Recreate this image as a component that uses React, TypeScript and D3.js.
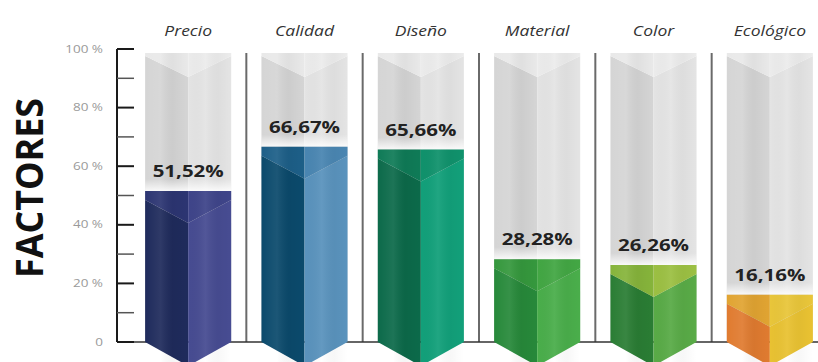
import React from "react";
import * as d3 from "d3";

const categories = ["Precio", "Calidad", "Diseño", "Material", "Color", "Ecológico"];
const values = [51.52, 66.67, 65.66, 28.28, 26.26, 16.16];
const valueLabels = ["51,52%", "66,67%", "65,66%", "28,28%", "26,26%", "16,16%"];
const majorTicks = [0, 20, 40, 60, 80, 100];
const majorTickLabels = ["0", "20 %", "40 %", "60 %", "80 %", "100 %"];
const minorTicks = [10, 30, 50, 70, 90];
const axisTitle = "FACTORES";

// face colours for each prism: left face, right face, top-left, top-right
const faceColors = [
  ["#1f2b5c", "#474c92", "#2c3572", "#3f458a"],
  ["#0b4a6c", "#5a93bd", "#1d5f88", "#4a86b2"],
  ["#0c6a4a", "#12a07a", "#0f7b57", "#10926c"],
  ["#27893a", "#4aae4b", "#35983d", "#43a744"],
  ["#2a7d34", "#59ab47", "#86b43b", "#9cc043"],
  ["#e07b30", "#e9c232", "#e1a432", "#e9c63a"],
];

const W = 818;
const H = 362;

type Pt = [number, number];

function prism(x0: number, x1: number, yTop: number, yBot: number, d1: number, d2: number, dB: number) {
  const xm = (x0 + x1) / 2;
  return {
    topL: [[x0, yTop], [xm, yTop], [xm, yTop + d2], [x0, yTop + d1]] as Pt[],
    topR: [[xm, yTop], [x1, yTop], [x1, yTop + d1], [xm, yTop + d2]] as Pt[],
    left: [[x0, yTop + d1], [xm, yTop + d2], [xm, yBot + dB], [x0, yBot]] as Pt[],
    right: [[xm, yTop + d2], [x1, yTop + d1], [x1, yBot], [xm, yBot + dB]] as Pt[],
  };
}

const poly = (pts: Pt[]) => (d3.line()(pts) || "") + "Z";

export default function App() {
  const x = d3.scaleBand<string>().domain(categories).range([130, 828]).paddingInner(0.26).paddingOuter(0.13);
  const y = d3.scaleLinear().domain([0, 100]).range([342, 49]);
  const bw = x.bandwidth();
  const gap = x.step() - bw;
  const axisX = 117;
  const base = y(0);

  return (
    <svg width={W} height={H} style={{ position: "absolute", left: 0, top: 0, background: "#ffffff" }}>
      <defs>
        <linearGradient id="glow" x1="0" y1="0" x2="0" y2="1">
          <stop offset="0" stopColor="#ffffff" stopOpacity="0" />
          <stop offset="1" stopColor="#ffffff" stopOpacity="0.85" />
        </linearGradient>
        <linearGradient id="sheen" x1="0" y1="0" x2="1" y2="0">
          <stop offset="0" stopColor="#ffffff" stopOpacity="0" />
          <stop offset="0.18" stopColor="#ffffff" stopOpacity="0.07" />
          <stop offset="0.32" stopColor="#000000" stopOpacity="0.04" />
          <stop offset="0.5" stopColor="#000000" stopOpacity="0" />
          <stop offset="0.7" stopColor="#ffffff" stopOpacity="0.06" />
          <stop offset="0.85" stopColor="#000000" stopOpacity="0.03" />
          <stop offset="1" stopColor="#000000" stopOpacity="0" />
        </linearGradient>
      </defs>

      {/* axis title */}
      <text
        transform={`translate(43, 188) rotate(-90)`}
        textAnchor="middle"
        fontFamily="'Open Sans', sans-serif"
        fontWeight={700}
        fontSize={37}
        textLength={180}
        lengthAdjust="spacingAndGlyphs"
        fill="#111"
      >
        {axisTitle}
      </text>

      {/* grey background columns */}
      {categories.map((c) => {
        const x0 = x(c)!;
        const p = prism(x0, x0 + bw, y(100) + 4, base, 3, 24, 0);
        return (
          <g key={"bg" + c}>
            <path d={poly(p.left)} fill="#d5d5d5" />
            <path d={poly(p.right)} fill="#e4e4e4" />
            <path d={poly(p.topL)} fill="#e9e9e9" />
            <path d={poly(p.topR)} fill="#ececec" />
            <rect x={x0} y={y(100) + 4} width={bw} height={base - y(100) - 4} fill="url(#sheen)" />
          </g>
        );
      })}

      {/* separators between columns */}
      {categories.slice(1).map((c) => (
        <line
          key={"sep" + c}
          x1={x(c)! - gap / 2}
          x2={x(c)! - gap / 2}
          y1={y(100) + 4}
          y2={base}
          stroke="#6a6a6a"
          strokeWidth={2}
        />
      ))}

      {/* baseline */}
      <line x1={axisX} x2={W} y1={base} y2={base} stroke="#333" strokeWidth={1.5} />

      {/* coloured prisms */}
      {categories.map((c, i) => {
        const x0 = x(c)!;
        const yTop = y(values[i]);
        const p = prism(x0, x0 + bw, yTop, base, 9, 32, 24);
        const col = faceColors[i];
        return (
          <g key={"bar" + c}>
            <rect x={x0} y={yTop - 12} width={bw} height={12} fill="url(#glow)" />
            <path d={poly(p.left)} fill={col[0]} />
            <path d={poly(p.right)} fill={col[1]} />
            <path d={poly(p.topL)} fill={col[2]} />
            <path d={poly(p.topR)} fill={col[3]} />
            <rect x={x0} y={yTop} width={bw} height={base + 24 - yTop} fill="url(#sheen)" />
            <g transform={`translate(${x0 + bw / 2}, ${yTop - 14}) scale(1.28, 1)`}>
              <text
                textAnchor="middle"
                fontFamily="'Open Sans', sans-serif"
                fontWeight={700}
                fontSize={16}
                fill="#222"
              >
                {valueLabels[i]}
              </text>
            </g>
          </g>
        );
      })}

      {/* category labels */}
      {categories.map((c) => (
        <g key={"lab" + c} transform={`translate(${x(c)! + bw / 2}, 36) scale(1.25, 1)`}>
          <text
            textAnchor="middle"
            fontFamily="'Open Sans', sans-serif"
            fontStyle="italic"
            fontSize={14}
            fill="#333"
          >
            {c}
          </text>
        </g>
      ))}

      {/* y axis */}
      <line x1={axisX} x2={axisX} y1={y(100)} y2={base} stroke="#1a1a1a" strokeWidth={2} />
      {minorTicks.map((t) => (
        <line key={"mt" + t} x1={axisX} x2={axisX + 17} y1={y(t)} y2={y(t)} stroke="#555" strokeWidth={1.5} />
      ))}
      {majorTicks.map((t, i) => (
        <g key={"t" + t}>
          <line x1={axisX} x2={axisX + 17} y1={y(t)} y2={y(t)} stroke="#1a1a1a" strokeWidth={2} />
          <g transform={`translate(103, ${y(t) + 3.5}) scale(1.35, 1)`}>
            <text textAnchor="end" fontFamily="'Open Sans', sans-serif" fontSize={10} fill="#9a9a9a">
              {majorTickLabels[i]}
            </text>
          </g>
        </g>
      ))}
    </svg>
  );
}
